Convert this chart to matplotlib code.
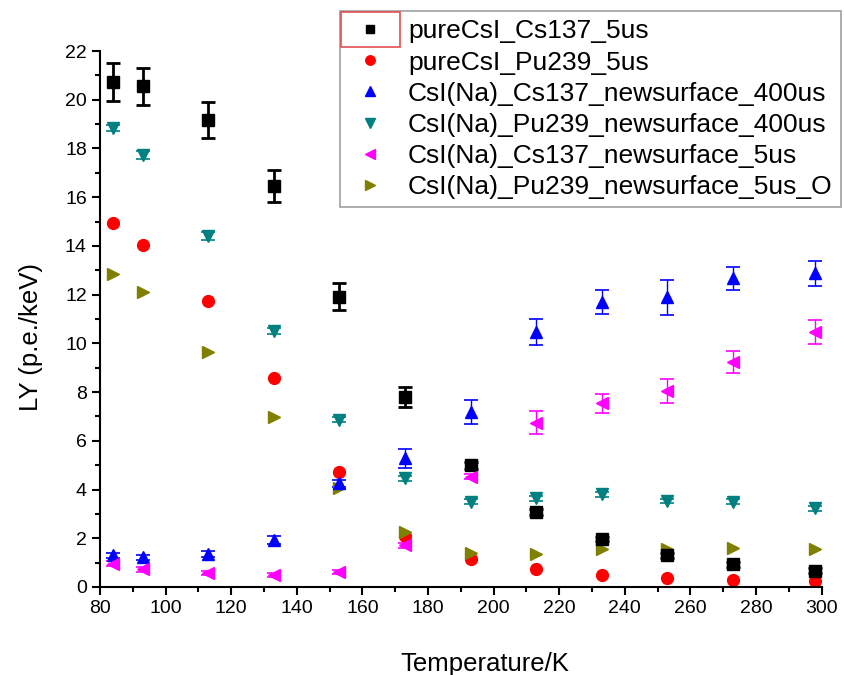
import matplotlib.pyplot as plt
from matplotlib.patches import Rectangle
import numpy as np

plt.rcParams['font.family'] = ['Liberation Sans', 'DejaVu Sans']

temps = [84, 93, 113, 133, 153, 173, 193, 213, 233, 253, 273, 298]

pure_cs137 = [20.72, 20.55, 19.17, 16.46, 11.92, 7.81, 5.0, 3.07, 1.97, 1.3, 0.94, 0.66]
pure_cs137_err = [0.77, 0.77, 0.75, 0.64, 0.55, 0.41, 0.15, 0.12, 0.1, 0.1, 0.1, 0.1]

pure_pu239 = [14.95, 14.04, 11.75, 8.57, 4.71, 2.1, 1.14, 0.73, 0.49, 0.36, 0.29, 0.25]

na_cs137_400 = [1.31, 1.22, 1.35, 1.93, 4.26, 5.28, 7.2, 10.48, 11.69, 11.89, 12.67, 12.88]
na_cs137_400_err = [0.1, 0.1, 0.12, 0.15, 0.15, 0.38, 0.49, 0.53, 0.49, 0.72, 0.48, 0.52]

na_pu239_400 = [18.83, 17.73, 14.41, 10.52, 6.86, 4.46, 3.5, 3.64, 3.8, 3.53, 3.5, 3.23]
na_pu239_400_err = [0.12, 0.15, 0.15, 0.12, 0.1, 0.1, 0.1, 0.1, 0.1, 0.1, 0.1, 0.1]

na_cs137_5 = [0.95, 0.73, 0.59, 0.49, 0.63, 1.72, 4.53, 6.75, 7.54, 8.05, 9.25, 10.48]
na_cs137_5_err = [0.1, 0.1, 0.08, 0.08, 0.08, 0.1, 0.1, 0.46, 0.38, 0.49, 0.45, 0.49]

na_pu239_5 = [12.85, 12.12, 9.66, 6.97, 4.08, 2.26, 1.41, 1.34, 1.55, 1.55, 1.61, 1.55]

labels = ['pureCsI_Cs137_5us', 'pureCsI_Pu239_5us',
          'CsI(Na)_Cs137_newsurface_400us', 'CsI(Na)_Pu239_newsurface_400us',
          'CsI(Na)_Cs137_newsurface_5us', 'CsI(Na)_Pu239_newsurface_5us_O']

fig = plt.figure(figsize=(8.44, 6.75), dpi=100)
ax = fig.add_axes([0.1185, 0.1304, 0.855, 0.794])

h1 = ax.errorbar(temps, pure_cs137, yerr=pure_cs137_err, fmt='s', color='black',
                 ms=8, capsize=5, elinewidth=2, capthick=2)
h2, = ax.plot(temps, pure_pu239, 'o', color='red', ms=8.5)
h3 = ax.errorbar(temps, na_cs137_400, yerr=na_cs137_400_err, fmt='^', color='blue',
                 ms=9, capsize=5, elinewidth=1, capthick=1.2)
h4 = ax.errorbar(temps, na_pu239_400, yerr=na_pu239_400_err, fmt='v', color='#008080',
                 ms=9, capsize=5, elinewidth=1, capthick=1.2)
h5 = ax.errorbar(temps, na_cs137_5, yerr=na_cs137_5_err, fmt='<', color='magenta',
                 ms=9, capsize=5, elinewidth=1, capthick=1.2)
h6, = ax.plot(temps, na_pu239_5, '>', color='#808000', ms=9)

ax.set_xlim(80, 300)
ax.set_ylim(0, 22)
ax.set_xticks(np.arange(80, 301, 20))
ax.set_xticks(np.arange(80, 301, 10), minor=True)
ax.set_yticks(np.arange(0, 23, 2))
ax.set_yticks(np.arange(0, 23, 1), minor=True)
ax.tick_params(which='major', length=6, width=1.5, labelsize=14)
ax.tick_params(which='minor', length=3.5, width=1.5)
for side in ['top', 'right']:
    ax.spines[side].set_visible(False)
for side in ['left', 'bottom']:
    ax.spines[side].set_linewidth(1.5)

ax.set_xlabel('Temperature/K', fontsize=18.5)
ax.set_ylabel('LY (p.e./keV)', fontsize=18.5)
ax.xaxis.set_label_coords(0.533, -0.121)
ax.yaxis.set_label_coords(-0.079, 0.466)

handles = [h1.lines[0], h2, h3.lines[0], h4.lines[0], h5.lines[0], h6]
leg = fig.legend(handles, labels, loc='upper right', bbox_to_anchor=(0.996, 0.983),
                 fontsize=19, frameon=True, fancybox=False, edgecolor='#888888',
                 handlelength=1.67, handletextpad=0.6, borderpad=0.3,
                 labelspacing=0.27, borderaxespad=0, markerscale=0.8)
leg.get_frame().set_linewidth(1.2)

# red selection box around the first legend symbol
fig.canvas.draw()
fb = leg.get_frame().get_window_extent()
tb = leg.get_texts()[0].get_window_extent()
x0, x1 = fb.x0 + 1, tb.x0 - 8
y1 = fb.y1 - 1
y0 = tb.y0 - 4
fig.patches.append(Rectangle((x0 / fig.bbox.width, y0 / fig.bbox.height),
                             (x1 - x0) / fig.bbox.width, (y1 - y0) / fig.bbox.height,
                             transform=fig.transFigure, fill=False,
                             edgecolor='#e05050', linewidth=1.2, zorder=10))

fig.savefig('out.png', dpi=100)
